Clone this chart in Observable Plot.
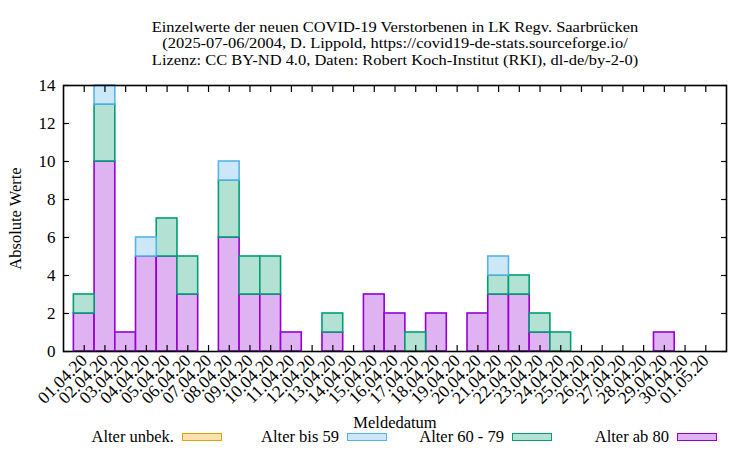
<!DOCTYPE html>
<html>
<head>
<meta charset="utf-8">
<script src="https://cdn.jsdelivr.net/npm/d3@7"></script>
<script src="https://cdn.jsdelivr.net/npm/@observablehq/plot@0.6"></script>
<style>
  body { margin: 0; background: #fff; }
  #wrap { position: relative; width: 750px; height: 450px; font-family: "Liberation Serif", "Times New Roman", serif; color: #000; }
  #title { position: absolute; left: 0; top: 19px; width: 790px; text-align: center; font-size: 14.3px; }
  #title div { height: 16.4px; line-height: 16.4px; white-space: nowrap; transform: scaleX(1.15); transform-origin: 395px 50%; }
  .leg { position: absolute; top: 428px; width: 157px; height: 18px; display: flex; justify-content: flex-end; align-items: center; font-size: 16.5px; }
  .leg span.sw { display: inline-block; width: 38px; height: 6px; margin-left: 8px; border: 1.5px solid; }
  #wrap svg text { font-family: "Liberation Serif", "Times New Roman", serif; fill: #000; }
</style>
</head>
<body>
<div id="wrap">
  <div id="title"></div>
</div>
<script>
const titleLines = [
  "Einzelwerte der neuen COVID-19 Verstorbenen in LK Regv. Saarbrücken",
  "(2025-07-06/2004, D. Lippold, https://covid19-de-stats.sourceforge.io/",
  "Lizenz: CC BY-ND 4.0, Daten: Robert Koch-Institut (RKI), dl-de/by-2-0)"
];
const dates = ["2020-04-01","2020-04-02","2020-04-03","2020-04-04","2020-04-05","2020-04-06","2020-04-07","2020-04-08","2020-04-09","2020-04-10",
  "2020-04-11","2020-04-12","2020-04-13","2020-04-14","2020-04-15","2020-04-16","2020-04-17","2020-04-18","2020-04-19","2020-04-20",
  "2020-04-21","2020-04-22","2020-04-23","2020-04-24","2020-04-25","2020-04-26","2020-04-27","2020-04-28","2020-04-29","2020-04-30","2020-05-01"];
const ab80  = [2,10,1,5,5,3,0,6,3,3,1,0,1,0,3,2,0,2,0,2,3,3,1,0,0,0,0,0,1,0,0];
const a6079 = [1,3,0,0,2,2,0,3,2,2,0,0,1,0,0,0,1,0,0,0,1,1,1,1,0,0,0,0,0,0,0];
const bis59 = [0,1,0,1,0,0,0,1,0,0,0,0,0,0,0,0,0,0,0,0,1,0,0,0,0,0,0,0,0,0,0];
const unbek = [0,0,0,0,0,0,0,0,0,0,0,0,0,0,0,0,0,0,0,0,0,0,0,0,0,0,0,0,0,0,0];
const seriesNames = ["Alter unbek.", "Alter bis 59", "Alter 60 - 79", "Alter ab 80"];
const seriesValues = [unbek, bis59, a6079, ab80];
const strokeColors = ["#e69f00", "#56b4e9", "#009e73", "#9400d3"];
const fillColors = ["#f8e2b3", "#cce8f8", "#b3e2d5", "#dfb2f2"];
const yTicks = [0,2,4,6,8,10,12,14];
const xDomain = ["2020-03-31", "2020-05-02"];
const yLabel = "Absolute Werte";
const xLabel = "Meldedatum";

const titleEl = document.getElementById("title");
titleLines.forEach(t => { const d = document.createElement("div"); d.textContent = t; titleEl.appendChild(d); });

const DAY = 864e5;
const parse = d3.utcParse("%Y-%m-%d");
const dateObjs = dates.map(parse);

const rows = [];
for (let s = seriesNames.length - 1; s >= 0; s--) {
  dateObjs.forEach((d, i) => {
    const v = seriesValues[s][i];
    if (v > 0) rows.push({x1: new Date(+d - DAY/2), x2: new Date(+d + DAY/2), value: v, series: seriesNames[s]});
  });
}

const fmt = d3.utcFormat("%d.%m.%y");
const FS = 16.5;

const chart = Plot.plot({
  width: 750,
  height: 450,
  marginLeft: 63,
  marginRight: 24,
  marginTop: 85,
  marginBottom: 99,
  style: {fontFamily: "Liberation Serif, Times New Roman, serif", fontSize: FS + "px", color: "#000", background: "#fff"},
  x: {type: "utc", domain: xDomain.map(parse)},
  y: {domain: [0, 14]},
  color: {domain: seriesNames, range: fillColors},
  marks: [
    Plot.rectY(rows, {x1: "x1", x2: "x2", y: "value", z: "series", fill: "series",
      stroke: d => strokeColors[seriesNames.indexOf(d.series)], strokeWidth: 1.6, inset: 0, order: null}),
    Plot.frame({stroke: "#000", strokeWidth: 1.6}),
    Plot.axisY({anchor: "left", ticks: yTicks, tickSize: 0, tickPadding: 8, label: null, fontSize: 17}),
    Plot.axisY({anchor: "left", ticks: yTicks, tickSize: 6, dx: 6, text: null, label: null, strokeWidth: 1.2}),
    Plot.axisY({anchor: "right", ticks: yTicks, tickSize: 6, dx: -6, text: null, label: null, strokeWidth: 1.2}),
    Plot.axisX({anchor: "bottom", ticks: dateObjs, tickSize: 6, dy: -6, text: null, label: null, strokeWidth: 1.2}),
    Plot.axisX({anchor: "top", ticks: dateObjs, tickSize: 6, dy: 6, text: null, label: null, strokeWidth: 1.2}),
    Plot.axisX({anchor: "bottom", ticks: dateObjs, tickFormat: fmt, tickSize: 0, tickPadding: 6, tickRotate: -45, label: null, fontSize: 17.5}),
    Plot.text([yLabel], {frameAnchor: "left", text: d => d, rotate: -90, dx: -48, textAnchor: "middle", fontSize: FS}),
    Plot.text([xLabel], {frameAnchor: "bottom", text: d => d, dy: 71, lineAnchor: "middle", fontSize: FS})
  ]
});
const wrap = document.getElementById("wrap");
wrap.insertBefore(chart, wrap.firstChild);

seriesNames.forEach((name, i) => {
  const el = document.createElement("div");
  el.className = "leg";
  el.style.left = (65 + 165 * i) + "px";
  const t = document.createElement("span");
  t.textContent = name;
  const sw = document.createElement("span");
  sw.className = "sw";
  sw.style.background = fillColors[i];
  sw.style.borderColor = strokeColors[i];
  el.appendChild(t); el.appendChild(sw);
  wrap.appendChild(el);
});
</script>
</body>
</html>
